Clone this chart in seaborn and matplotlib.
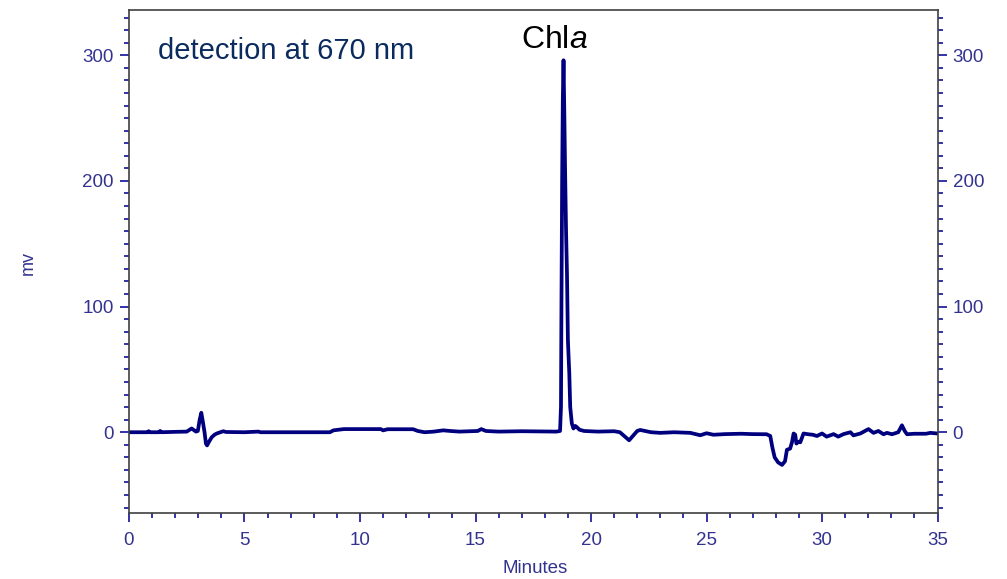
import matplotlib
matplotlib.use("Agg")
import matplotlib.pyplot as plt
from matplotlib.ticker import MultipleLocator
import numpy as np
import pandas as pd
import seaborn as sns

# Chromatogram trace, detector signal (mV) against retention time (min)
minutes = [
    0.00, 0.80, 0.85, 0.90, 1.30, 1.35, 1.40, 2.00, 2.50, 2.71, 2.90, 2.98,
    3.06, 3.13, 3.20, 3.27, 3.33, 3.38, 3.45, 3.58, 3.70, 3.80, 4.08, 4.20,
    5.00, 5.60, 5.70, 8.70, 8.85, 9.30, 10.90, 11.00, 11.20, 12.30, 12.50,
    12.80, 13.20, 13.60, 13.90, 14.30, 15.10, 15.25, 15.45, 16.00, 17.00,
    18.50, 18.66, 18.70, 18.72, 18.75, 18.78, 18.81, 18.84, 18.88, 18.92,
    18.96, 19.00, 19.06, 19.10, 19.17, 19.24, 19.32, 19.39, 19.50, 19.70,
    20.30, 21.00, 21.25, 21.65, 22.00, 22.13, 22.60, 23.00, 23.60, 24.30,
    24.73, 25.00, 25.30, 25.80, 26.50, 27.00, 27.60, 27.76, 27.85, 27.95,
    28.10, 28.27, 28.40, 28.48, 28.62, 28.70, 28.77, 28.84, 28.89, 29.00,
    29.06, 29.20, 29.40, 29.60, 29.78, 30.00, 30.20, 30.50, 30.70, 30.93,
    31.23, 31.36, 31.66, 32.01, 32.23, 32.44, 32.66, 32.81, 33.03, 33.30,
    33.46, 33.58, 33.68, 34.00, 34.50, 34.69, 35.00,
]
signal_mv = [
    0.0, 0.0, 0.8, 0.0, 0.0, 1.0, 0.0, 0.3, 0.5, 3.0, 0.5, 1.0,
    10.0, 15.5, 8.0, 0.0, -9.0, -10.5, -8.0, -4.0, -2.0, -1.0, 0.8, 0.2,
    0.0, 0.5, 0.0, 0.0, 1.5, 2.5, 2.5, 1.5, 2.4, 2.4, 1.0,
    0.0, 0.5, 1.5, 1.0, 0.5, 1.0, 2.5, 1.0, 0.5, 0.8,
    0.5, 1.0, 20.0, 100.0, 200.0, 265.0, 296.0, 260.0, 206.0, 160.0,
    126.0, 73.0, 47.0, 20.0, 7.0, 3.0, 5.0, 4.0, 2.0, 1.0,
    0.5, 0.8, 0.0, -6.4, 1.0, 1.8, 0.0, -0.5, 0.0, -0.5,
    -2.4, -0.8, -2.0, -1.5, -1.2, -1.5, -1.6, -3.0, -12.0, -20.0,
    -24.0, -26.0, -23.0, -14.0, -13.0, -8.0, -1.0, -2.0, -9.0, -7.5,
    -8.0, -1.0, -1.6, -2.0, -3.0, -1.0, -3.5, -1.5, -3.5, -1.5,
    0.0, -2.5, -1.0, 2.5, -0.5, 1.0, -1.6, -0.5, -1.6, 0.0,
    5.5, 1.0, -1.6, -1.2, -1.2, -0.5, -1.0,
]
x_ticks = [0, 5, 10, 15, 20, 25, 30, 35]
y_ticks = [0, 100, 200, 300]

trace = pd.DataFrame({"Minutes": minutes, "mv": signal_mv})

sns.set_style("ticks")
plt.rcParams["font.family"] = ["Liberation Sans", "DejaVu Sans"]
plt.rcParams["mathtext.fontset"] = "custom"
plt.rcParams["mathtext.rm"] = "Liberation Sans"
plt.rcParams["mathtext.it"] = "Liberation Sans:italic"

line_color = "#00007f"
tick_color = "#10109a"
label_color = "#33338f"
spine_color = "#404040"

fig = plt.figure(figsize=(10.07, 5.79), dpi=100)
ax = fig.add_axes([0.1281, 0.1135, 0.8029, 0.8692])

sns.lineplot(data=trace, x="Minutes", y="mv", ax=ax, color=line_color,
             linewidth=2.7, estimator=None, sort=False)

ax.set_xlim(0, 35)
ax.set_ylim(-64.5, 336)
ax.set_xticks(x_ticks)
ax.set_yticks(y_ticks)
ax.xaxis.set_minor_locator(MultipleLocator(1))
ax.yaxis.set_minor_locator(MultipleLocator(10))

for side in ["left", "right", "top", "bottom"]:
    ax.spines[side].set_visible(True)
    ax.spines[side].set_color(spine_color)
    ax.spines[side].set_linewidth(1.2)

ax.tick_params(which="both", direction="out", color=tick_color, width=1.2,
               left=True, right=True, bottom=True, top=False,
               labelleft=True, labelright=True)
ax.tick_params(which="major", length=6.3, labelsize=13.5,
               labelcolor=label_color)
ax.tick_params(axis="y", which="major", pad=4.5)
ax.tick_params(axis="x", which="major", pad=7)
ax.tick_params(which="minor", length=3.8)

ax.set_xlabel("Minutes", fontsize=13.5, color=label_color, va="center")
ax.xaxis.set_label_coords(0.5025, -0.109)
ax.set_ylabel("mv", fontsize=13, color=label_color, va="center")
ax.yaxis.set_label_coords(-0.125, 0.497)

fig.text(0.157, 0.898, "detection at 670 nm", fontsize=21,
         color="#0b2b5e", ha="left", va="baseline")
fig.text(0.551, 0.917, r"Chl$\it{a}$", fontsize=23, color="black",
         ha="center", va="baseline")

fig.savefig("out.png", dpi=100)
